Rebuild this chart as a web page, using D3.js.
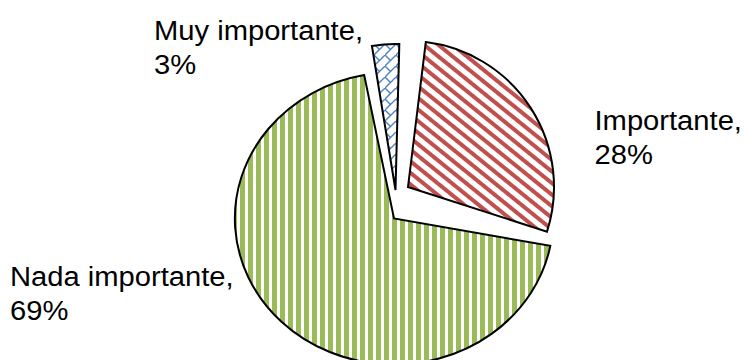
<!DOCTYPE html>
<html>
<head>
<meta charset="utf-8">
<script src="https://cdn.jsdelivr.net/npm/d3@7"></script>
<style>
  html, body { margin: 0; padding: 0; background: #fff; }
  svg { display: block; }
  text { font-family: "Liberation Sans", Arial, sans-serif; fill: #000; }
</style>
</head>
<body>
<svg id="chart" width="745" height="360"></svg>
<script>
// ---- data ----
const categories = ["Importante", "Nada importante", "Muy importante"];
const values = [28, 69, 3];
const valueLabels = ["28%", "69%", "3%"];

// ---- layout / style ----
const W = 745, H = 360;
const center = [400, 205];
const radius = 146;
const fontSize = 27;
const textStretch = 1.08;
const lineGap = 34.5;

// per-slice placement: explode offset from the pie centre, small turn, horizontal stretch
const sliceStyle = {
  "Importante":      { offset: [8, -18],    rot: 7,   sx: 1.0,  fill: "url(#pat-red)" },
  "Nada importante": { offset: [-6, 13.5],  rot: 0,   sx: 1.09, fill: "url(#pat-green)" },
  "Muy importante":  { offset: [-4.5, -15], rot: 1.5, sx: 1.0,  fill: "url(#pat-blue)" }
};
// label anchor (left x, first baseline)
const labelPos = {
  "Importante":      [594.5, 130],
  "Nada importante": [10, 285.5],
  "Muy importante":  [154, 39.5]
};

const svg = d3.select("#chart");
const defs = svg.append("defs");

// vertical green stripes
const pg = defs.append("pattern").attr("id", "pat-green")
  .attr("patternUnits", "userSpaceOnUse").attr("width", 8).attr("height", 8);
pg.append("rect").attr("width", 8).attr("height", 8).attr("fill", "#fff");
pg.append("rect").attr("x", 0).attr("width", 5).attr("height", 8).attr("fill", "#9BBB59");

// downward diagonal red stripes
const pr = defs.append("pattern").attr("id", "pat-red")
  .attr("patternUnits", "userSpaceOnUse").attr("width", 9).attr("height", 9)
  .attr("patternTransform", "rotate(39)");
pr.append("rect").attr("width", 9).attr("height", 9).attr("fill", "#fff");
pr.append("rect").attr("y", 0).attr("width", 9).attr("height", 4).attr("fill", "#C0504D");

// blue diagonal brick lattice
const pb = defs.append("pattern").attr("id", "pat-blue")
  .attr("patternUnits", "userSpaceOnUse").attr("width", 11).attr("height", 11);
pb.append("rect").attr("width", 11).attr("height", 11).attr("fill", "#fff");
pb.append("path").attr("d", "M-1,12 L12,-1 M0,0 L5.5,5.5")
  .attr("stroke", "#4F81BD").attr("stroke-width", 1.4).attr("fill", "none");

const pie = d3.pie().sort(null).value(d => d.value);
const arc = d3.arc().innerRadius(0).outerRadius(radius);

const rows = categories.map((c, i) => ({ name: c, value: values[i], label: valueLabels[i] }));
const arcs = pie(rows);

const transformFor = d => {
  const s = sliceStyle[d.data.name];
  const x = center[0] + s.offset[0], y = center[1] + s.offset[1];
  return `translate(${x},${y}) scale(${s.sx},1) rotate(${s.rot})`;
};

arcs.forEach((d, i) => {
  defs.append("clipPath").attr("id", "clip-" + i)
    .append("path").attr("d", arc(d)).attr("transform", transformFor(d));
});

const g = svg.append("g");
const slice = g.selectAll("g.slice").data(arcs).join("g").attr("class", "slice");
slice.append("rect")
  .attr("width", W).attr("height", H)
  .attr("fill", d => sliceStyle[d.data.name].fill)
  .attr("clip-path", (d, i) => `url(#clip-${i})`);
slice.append("path")
  .attr("d", arc)
  .attr("transform", transformFor)
  .attr("fill", "none")
  .attr("stroke", "#000")
  .attr("stroke-width", 2)
  .attr("stroke-linejoin", "miter")
  .attr("vector-effect", "non-scaling-stroke");

// data labels
const labels = svg.append("g").selectAll("g.label").data(arcs).join("g")
  .attr("class", "label")
  .attr("transform", d => {
    const p = labelPos[d.data.name];
    return `translate(${p[0]},${p[1]}) scale(${textStretch},1)`;
  });
labels.append("text").attr("font-size", fontSize)
  .selectAll("tspan")
  .data(d => [d.data.name + ",", d.data.label])
  .join("tspan")
  .attr("x", 0)
  .attr("y", (t, i) => i * lineGap)
  .text(t => t);
</script>
</body>
</html>
